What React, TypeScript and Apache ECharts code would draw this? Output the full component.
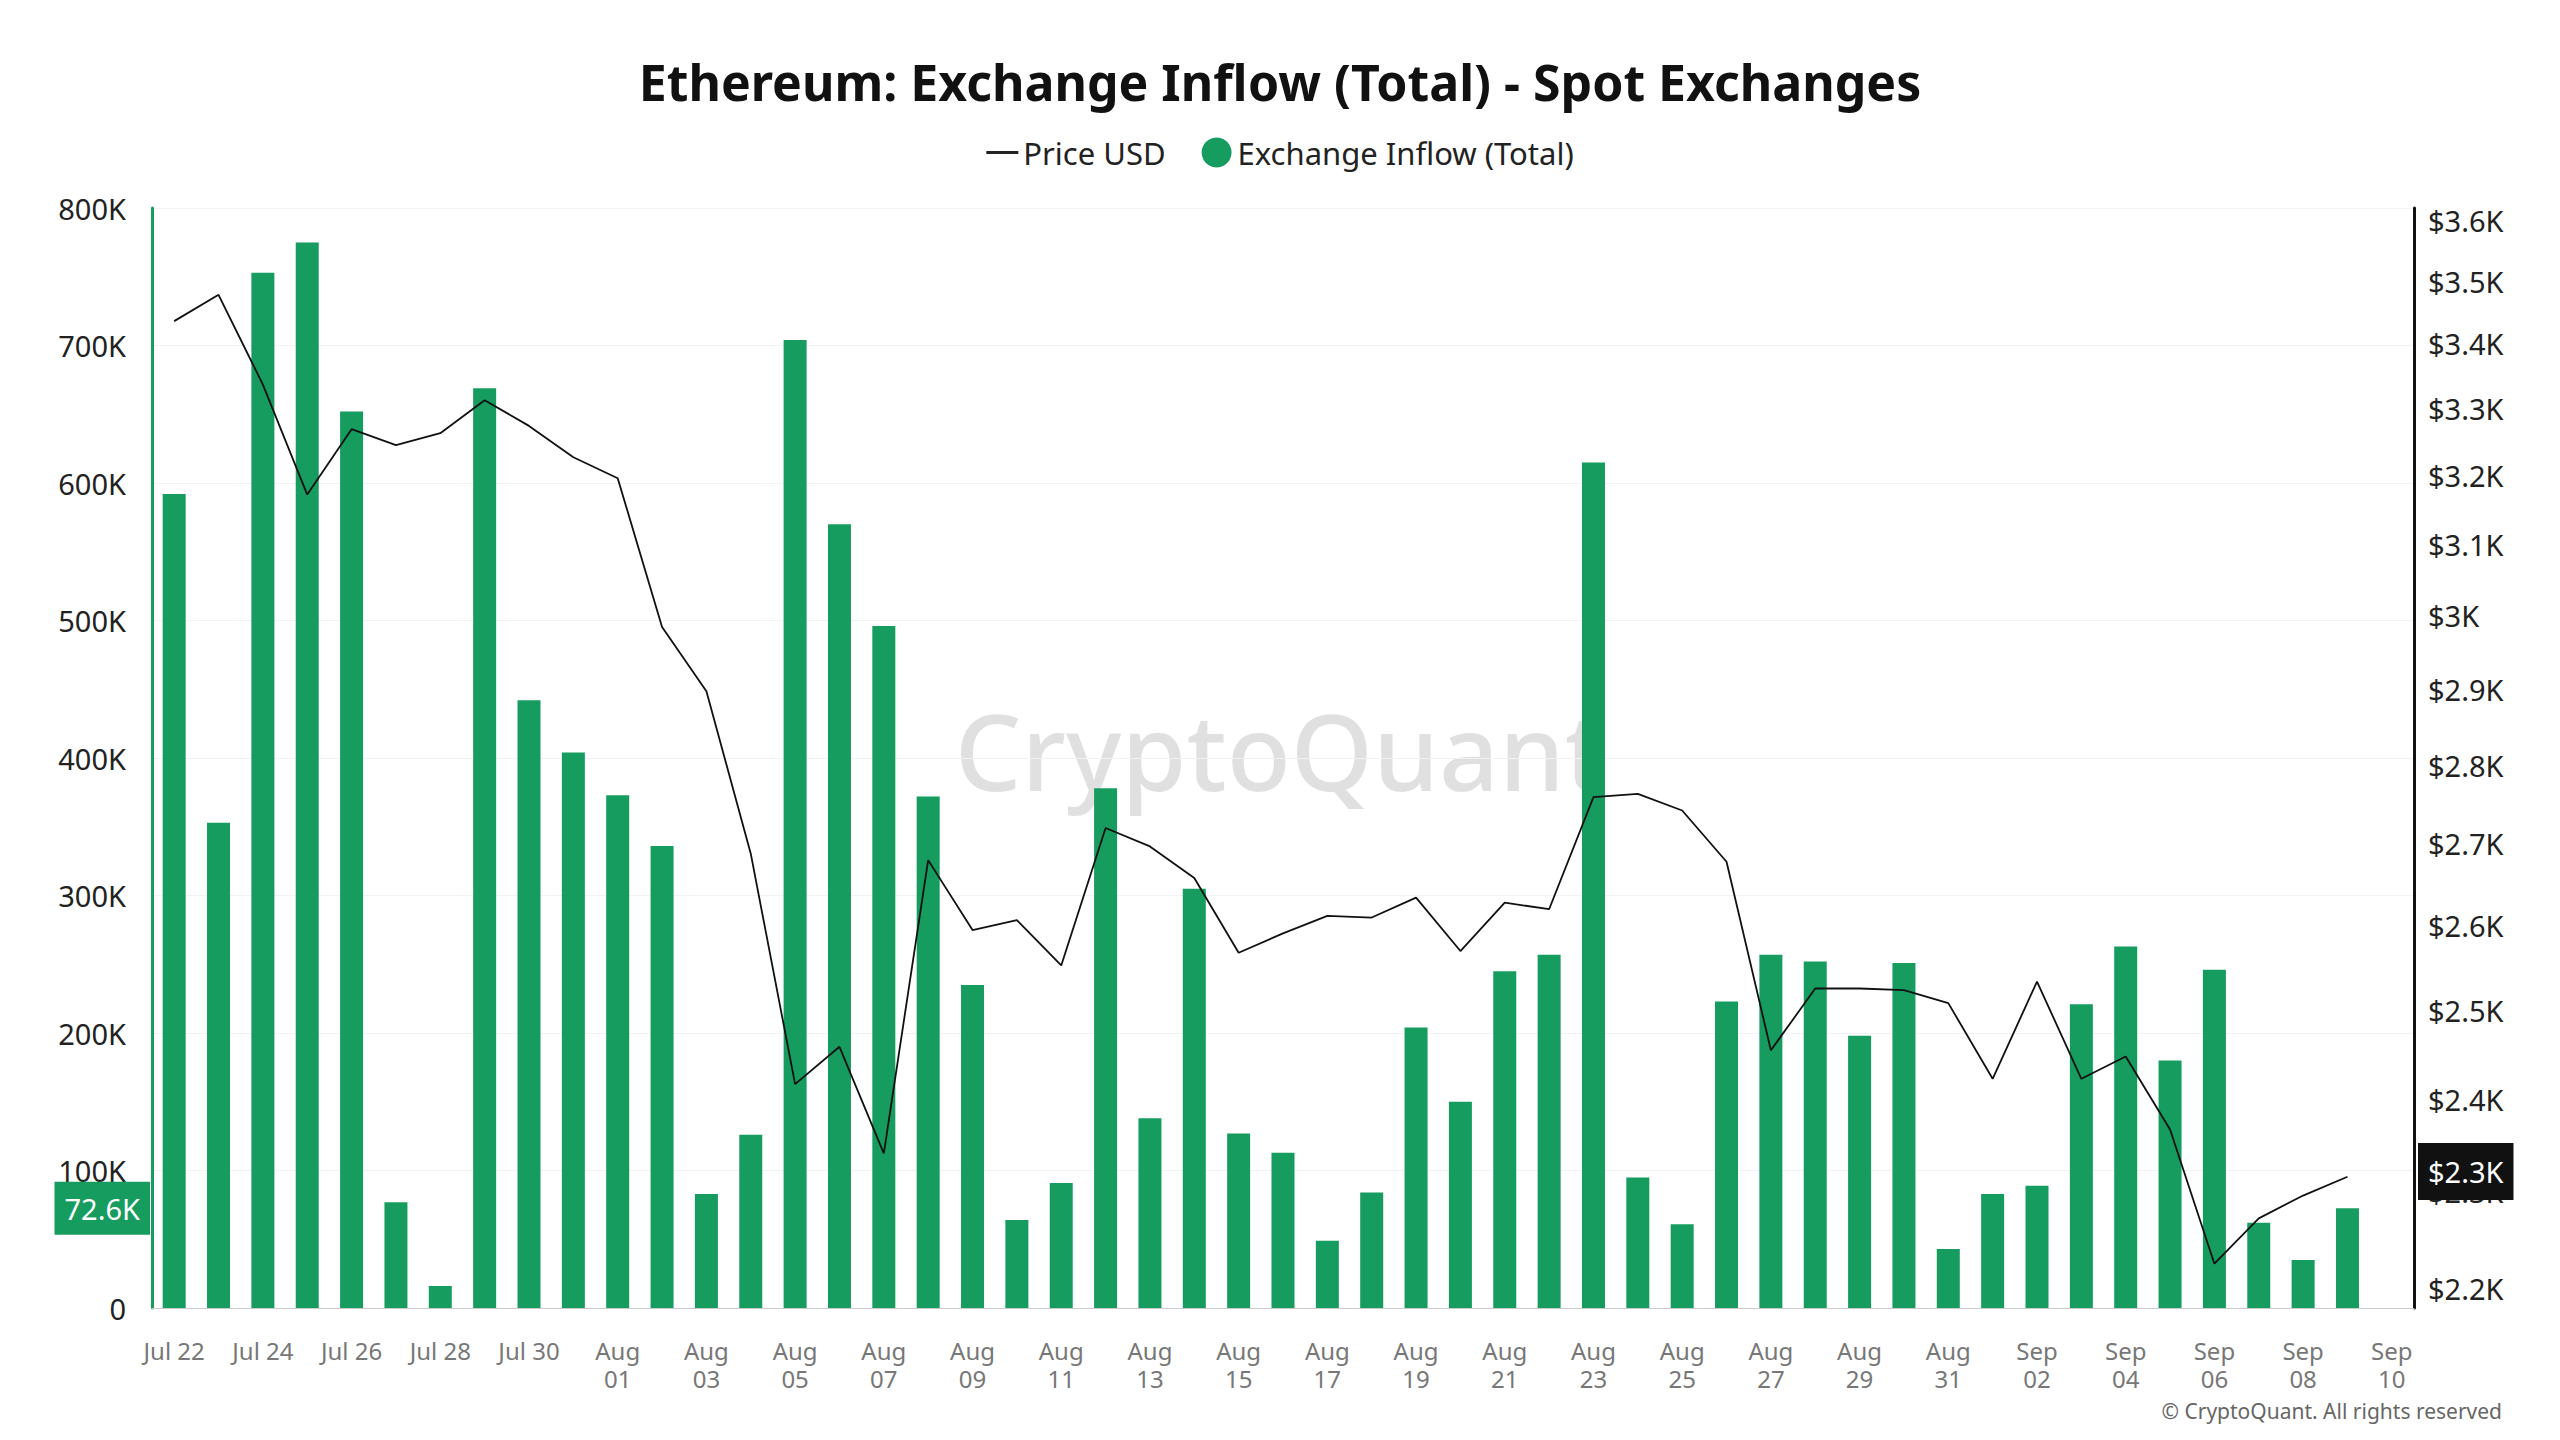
import React, { useEffect, useRef } from "react";
import * as echarts from "echarts";

const dates: string[] = [
  "Jul 22","Jul 23","Jul 24","Jul 25","Jul 26","Jul 27","Jul 28","Jul 29","Jul 30","Jul 31",
  "Aug 01","Aug 02","Aug 03","Aug 04","Aug 05","Aug 06","Aug 07","Aug 08","Aug 09","Aug 10",
  "Aug 11","Aug 12","Aug 13","Aug 14","Aug 15","Aug 16","Aug 17","Aug 18","Aug 19","Aug 20",
  "Aug 21","Aug 22","Aug 23","Aug 24","Aug 25","Aug 26","Aug 27","Aug 28","Aug 29","Aug 30",
  "Aug 31","Sep 01","Sep 02","Sep 03","Sep 04","Sep 05","Sep 06","Sep 07","Sep 08","Sep 09","Sep 10",
];
const inflowK: (number | null)[] = [
  592,353,753,775,652,77,16,669,442,404,
  373,336,83,126,704,570,496,372,235,64,
  91,378,138,305,127,113,49,84,204,150,
  245,257,615,95,61,223,257,252,198,251,
  43,83,89,221,263,180,246,62,35,72.6,null,
];
const priceUsd: (number | null)[] = [
  3436,3478,3337,3172,3269,3245,3263,3313,3274,3227,
  3196,2984,2897,2688,2417,2459,2341,2680,2595,2607,
  2553,2720,2697,2658,2568,2591,2612,2610,2634,2570,
  2628,2620,2759,2763,2742,2678,2455,2526,2526,2524,
  2509,2423,2534,2423,2448,2367,2225,2272,2296,2316,null,
];
const priceTicks: number[] = [2200,2300,2400,2500,2600,2700,2800,2900,3000,3100,3200,3300,3400,3500,3600];

const FONT = "Noto Sans";

export default function App() {
  const ref = useRef<HTMLDivElement>(null);
  useEffect(() => {
    const chart = echarts.init(ref.current!, null, { renderer: "svg" });
    const fmtP = (v: number) => "$" + Math.round(Math.exp(v) / 100) / 10 + "K";
    chart.setOption({
      animation: false,
      backgroundColor: "#fff",
      textStyle: { fontFamily: FONT },
      title: {
        text: "Ethereum: Exchange Inflow (Total) - Spot Exchanges",
        left: "center", top: 44,
        textStyle: { fontSize: 50, fontWeight: "bold", color: "#111", fontFamily: FONT },
      },
      legend: {
        top: 124, left: "center", itemGap: 36,
        textStyle: { fontSize: 31, color: "#222", fontFamily: FONT },
        data: [
          { name: "Price USD", icon: "path://M0,0H10V1H0Z", itemStyle: { color: "#222" } },
          { name: "Exchange Inflow (Total)", icon: "circle" },
        ],
        itemWidth: 32, itemHeight: 30,
      },
      graphic: [
        { type: "text", left: "center", top: 690, style: { text: "CryptoQuant", fontSize: 105, fontWeight: 500, fontFamily: FONT, fill: "rgba(0,0,0,0.12)" } },
        { type: "text", right: 50, top: 1392, style: { text: "© CryptoQuant. All rights reserved", fontSize: 21, fontFamily: FONT, fill: "#666" } },
      ],
      grid: { left: 144, right: 138, top: 200, bottom: 124 },
      xAxis: {
        type: "category", data: dates,
        axisLine: { lineStyle: { color: "#ccc" } },
        axisTick: { show: false },
        axisLabel: {
          interval: 1, fontSize: 24, color: "#777", margin: 28, lineHeight: 28,
          formatter: (v: string) => v.startsWith("Jul") ? v : v.replace(" ", "\n"),
        },
      },
      yAxis: [
        {
          type: "value", min: 0, max: 800, interval: 100,
          axisLine: { show: true, lineStyle: { color: "#169c5f", width: 3 } },
          axisLabel: { fontSize: 29, color: "#222", margin: 26, formatter: (v: number) => v === 0 ? "0" : v + "K" },
          splitLine: { lineStyle: { color: "#f2f2f2" } },
        },
        {
          type: "value", min: Math.log(2180), max: Math.log(3620),
          axisLine: { show: true, lineStyle: { color: "#111", width: 3 } },
          axisTick: { show: false },
          splitLine: { show: false },
          axisLabel: {
            fontSize: 29, color: "#222", margin: 14,
            customValues: priceTicks.map((p) => Math.log(p)),
            formatter: fmtP,
          },
        },
      ],
      series: [
        {
          name: "Exchange Inflow (Total)", type: "bar", data: inflowK, barWidth: 23,
          itemStyle: { color: "#169c5f" },
          markLine: {
            symbol: "none", silent: true,
            lineStyle: { color: "rgba(0,0,0,0)", width: 1, type: "solid" },
            data: [{ yAxis: 72.6 }],
            label: {
              show: true, position: "start", formatter: "72.6K", color: "#fff", fontSize: 29,
              backgroundColor: "#169c5f", padding: [12, 10], distance: 2,
            },
          },
        },
        {
          name: "Price USD", type: "line", yAxisIndex: 1,
          data: priceUsd.map((p) => (p == null ? null : Math.log(p))),
          symbol: "none", lineStyle: { color: "#111", width: 1.8 },
          markLine: {
            symbol: "none", silent: true,
            lineStyle: { color: "rgba(0,0,0,0)", width: 1, type: "solid" },
            data: [{ yAxis: Math.log(2316) }],
            label: {
              show: true, position: "end", formatter: "$2.3K", color: "#fff", fontSize: 29,
              backgroundColor: "#111", padding: [14, 10], distance: 4,
            },
          },
        },
      ],
    });
    return () => chart.dispose();
  }, []);
  return <div ref={ref} style={{ width: 2544, height: 1424 }} />;
}
